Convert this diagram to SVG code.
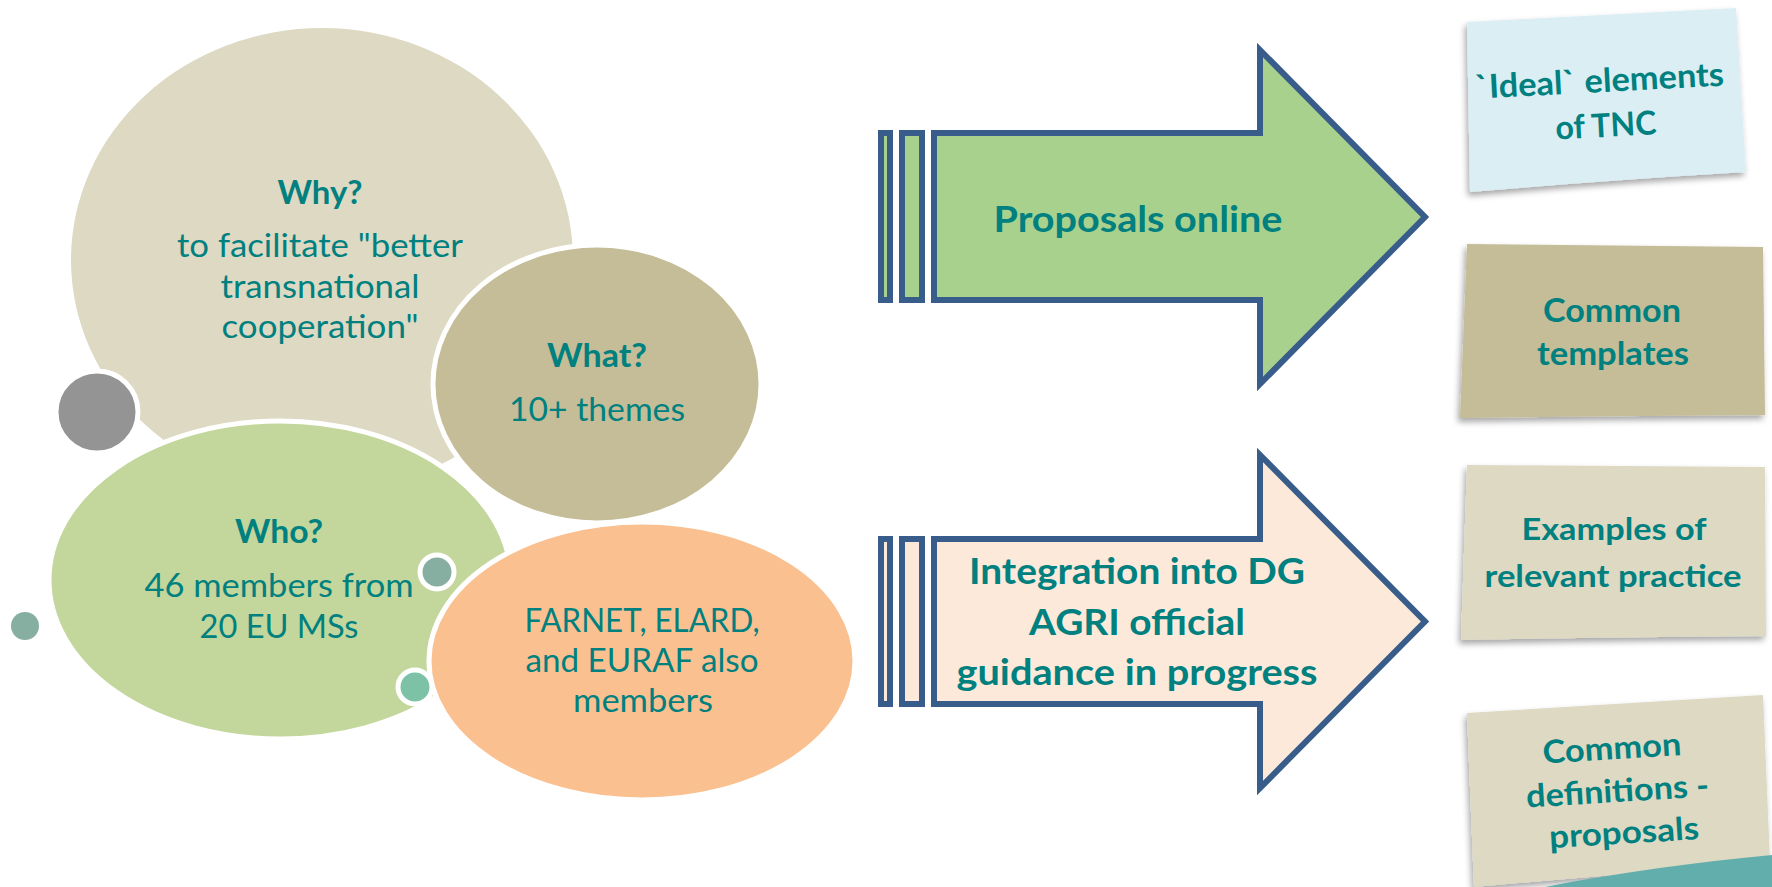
<svg xmlns="http://www.w3.org/2000/svg" width="1772" height="887" viewBox="0 0 1772 887">
<defs>
<style>
text{font-family:Lato,"Open Sans","Liberation Sans",sans-serif;fill:#00807f;text-anchor:middle}
.b{font-weight:bold}
.r{font-weight:normal}
.ring{stroke:#fff;stroke-width:5}
.arw{stroke:#385d8a;stroke-width:6;stroke-linejoin:miter}
.note{filter:url(#sh)}
</style>
<filter id="sh" x="-10%" y="-10%" width="125%" height="130%">
<feDropShadow dx="-2" dy="4" stdDeviation="3" flood-color="#000" flood-opacity="0.35"/>
</filter>
</defs>
<rect width="1772" height="887" fill="#fff"/>

<g id="why">
<ellipse cx="322" cy="260" rx="251" ry="232" fill="#ddd9c3"/>
<text class="b" x="320" y="204" font-size="32" textLength="85" lengthAdjust="spacingAndGlyphs">Why?</text>
<text class="r" x="320" y="257" font-size="32" textLength="286" lengthAdjust="spacingAndGlyphs">to facilitate "better</text>
<text class="r" x="320" y="298" font-size="32" textLength="199" lengthAdjust="spacingAndGlyphs">transnational</text>
<text class="r" x="320" y="338" font-size="32" textLength="197" lengthAdjust="spacingAndGlyphs">cooperation"</text>
</g>

<g id="dot-gray">
<circle class="ring" cx="97" cy="412" r="41" fill="#949494"/>
</g>

<g id="what">
<ellipse class="ring" cx="597" cy="384" rx="164" ry="139" fill="#c4bd97"/>
<text class="b" x="597" y="367" font-size="32" textLength="100" lengthAdjust="spacingAndGlyphs">What?</text>
<text class="r" x="597" y="421" font-size="32" textLength="176" lengthAdjust="spacingAndGlyphs">10+ themes</text>
</g>

<g id="who">
<ellipse class="ring" cx="280" cy="580" rx="231" ry="159" fill="#c3d69b"/>
<text class="b" x="279" y="543" font-size="32" textLength="88" lengthAdjust="spacingAndGlyphs">Who?</text>
<text class="r" x="279" y="597" font-size="32" textLength="269" lengthAdjust="spacingAndGlyphs">46 members from</text>
<text class="r" x="279" y="638" font-size="32" textLength="159" lengthAdjust="spacingAndGlyphs">20 EU MSs</text>
</g>

<g id="dot-left">
<circle cx="25" cy="626" r="14" fill="#86afa2"/>
</g>
<g id="dot-upper">
<circle class="ring" cx="437" cy="572" r="17" fill="#86afa2"/>
</g>
<g id="dot-lower">
<circle class="ring" cx="415" cy="687" r="17" fill="#7dc2a6"/>
</g>

<g id="members">
<ellipse class="ring" cx="642" cy="661" rx="213" ry="139" fill="#fac090"/>
<text class="r" x="642" y="632" font-size="32" textLength="235" lengthAdjust="spacingAndGlyphs">FARNET, ELARD,</text>
<text class="r" x="642" y="672" font-size="32" textLength="233" lengthAdjust="spacingAndGlyphs">and EURAF also</text>
<text class="r" x="643" y="712" font-size="32" textLength="140" lengthAdjust="spacingAndGlyphs">members</text>
</g>

<g id="arrow-proposals">
<rect class="arw" x="881" y="133" width="9" height="167" fill="#a9d18e"/>
<rect class="arw" x="902" y="133" width="20" height="167" fill="#a9d18e"/>
<polygon class="arw" points="934,133 1260,133 1260,50 1425,217 1260,384 1260,300 934,300" fill="#a9d18e"/>
<text class="b" x="1138" y="232" font-size="37" textLength="289" lengthAdjust="spacingAndGlyphs">Proposals online</text>
</g>

<g id="arrow-integration">
<rect class="arw" x="881" y="539" width="9" height="165" fill="#fce9da"/>
<rect class="arw" x="902" y="539" width="20" height="165" fill="#fce9da"/>
<polygon class="arw" points="934,539 1260,539 1260,455 1425,621.5 1260,788 1260,704 934,704" fill="#fce9da"/>
<text class="b" x="1137" y="584" font-size="36" textLength="336" lengthAdjust="spacingAndGlyphs">Integration into DG</text>
<text class="b" x="1137" y="635" font-size="36" textLength="216" lengthAdjust="spacingAndGlyphs">AGRI official</text>
<text class="b" x="1137" y="685" font-size="36" textLength="361" lengthAdjust="spacingAndGlyphs">guidance in progress</text>
</g>

<g id="note-ideal">
<path class="note" d="M1467,22 L1736,8 L1746,172 Q1610,180 1470,192 Z" fill="#dbeef4"/>
<g transform="rotate(-3 1603 110)">
<text class="b" x="1601" y="92" font-size="33" textLength="249" lengthAdjust="spacingAndGlyphs">`Ideal` elements</text>
<text class="b" x="1605" y="137" font-size="33" textLength="101" lengthAdjust="spacingAndGlyphs">of TNC</text>
</g>
</g>

<g id="note-templates">
<path class="note" d="M1467,244 L1763,247 L1765,415 Q1610,416 1460,418 Z" fill="#c4bd97"/>
<text class="b" x="1612" y="322" font-size="32" textLength="138" lengthAdjust="spacingAndGlyphs">Common</text>
<text class="b" x="1613" y="365" font-size="32" textLength="152" lengthAdjust="spacingAndGlyphs">templates</text>
</g>

<g id="note-examples">
<path class="note" d="M1467,465 L1765,467 L1766,636 Q1610,637 1461,640 Z" fill="#ddd9c3"/>
<text class="b" x="1614" y="540" font-size="30" textLength="185" lengthAdjust="spacingAndGlyphs">Examples of</text>
<text class="b" x="1613" y="587" font-size="30" textLength="257" lengthAdjust="spacingAndGlyphs">relevant practice</text>
</g>

<g id="note-definitions">
<path class="note" d="M1467,713 L1763,695 L1770,862 Q1620,874 1474,887 Z" fill="#ddd9c3"/>
<g transform="rotate(-3.5 1618 800)">
<text class="b" x="1615" y="759" font-size="32" textLength="139" lengthAdjust="spacingAndGlyphs">Common</text>
<text class="b" x="1618" y="802" font-size="32" textLength="183" lengthAdjust="spacingAndGlyphs">definitions -</text>
<text class="b" x="1622" y="844" font-size="32" textLength="150" lengthAdjust="spacingAndGlyphs">proposals</text>
</g>
</g>

<g id="corner">
<path d="M1545,887 C1620,872 1700,862 1772,855 L1772,887 Z" fill="#62aeac"/>
</g>
</svg>
